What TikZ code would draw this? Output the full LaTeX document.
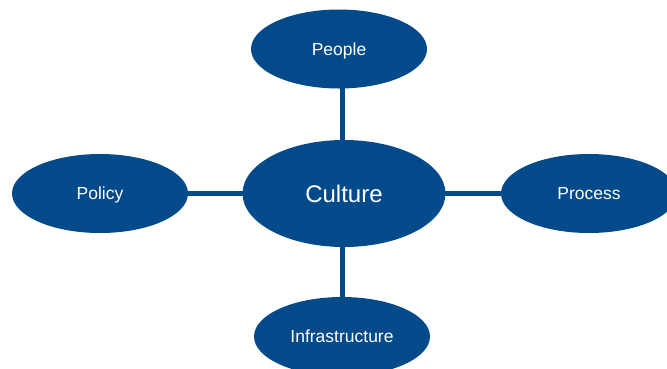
\documentclass[tikz,border=0pt]{standalone}
\usepackage{fontspec}
\setmainfont{Liberation Sans}
\usetikzlibrary{shapes.geometric,backgrounds}
\definecolor{cblue}{RGB}{2,74,137}
\begin{document}
\begin{tikzpicture}[x=1pt,y=-1pt,
  bubble/.style={ellipse,fill=cblue,draw=none,inner sep=0pt,text=white,
    text height=12.5pt,text depth=0pt,
    minimum width=176pt,minimum height=79pt,font=\fontsize{17.5}{17.5}\selectfont},
  link/.style={draw=cblue,line width=5pt}]
\useasboundingbox (0,0) rectangle (667,368);
\clip (0,0) rectangle (667,368);
\node[bubble,minimum width=203pt,minimum height=107pt,text height=17.2pt,font=\fontsize{24}{24}\selectfont] (culture) at (344,193.5) {Culture};
\node[bubble] (people) at (339,49) {People};
\node[bubble] (policy) at (100,193.5) {Policy};
\node[bubble] (process) at (589,193.5) {Process};
\node[bubble] (infra) at (342,336.5) {Infrastructure};
\begin{scope}[on background layer]
\draw[link] (342,193.5) -- (342,193.5 |- people.center);
\draw[link] (342,193.5) -- (342,193.5 |- infra.center);
\draw[link] (culture.center) -- (policy.center);
\draw[link] (culture.center) -- (process.center);
\end{scope}
\end{tikzpicture}
\end{document}
